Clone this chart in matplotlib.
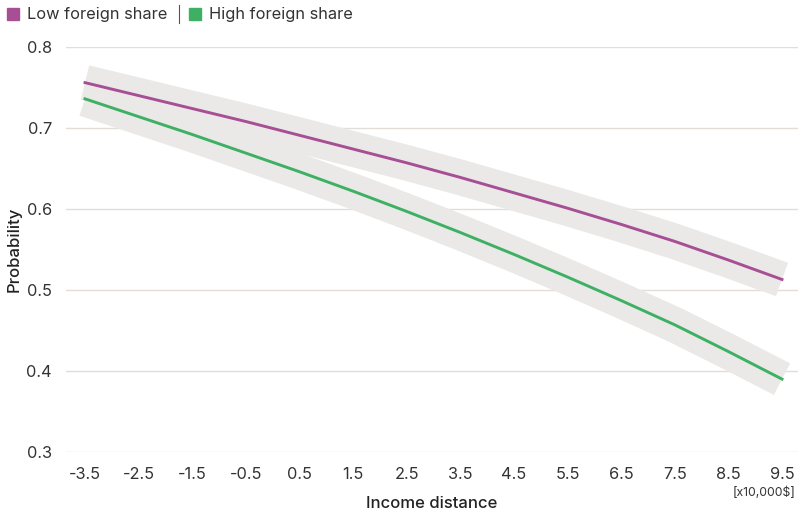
import matplotlib
matplotlib.use("Agg")
import matplotlib.pyplot as plt
import matplotlib.patches as patches

# income distance (x10,000$) and predicted probability for each group
income = [-3.5, -2.5, -1.5, -0.5, 0.5, 1.5, 2.5, 3.5, 4.5, 5.5, 6.5, 7.5, 8.5, 9.5]
low_share = [0.756, 0.740, 0.724, 0.708, 0.691, 0.674, 0.657, 0.639,
             0.620, 0.601, 0.581, 0.560, 0.537, 0.513]
high_share = [0.736, 0.714, 0.692, 0.669, 0.646, 0.622, 0.597, 0.571,
              0.544, 0.516, 0.487, 0.457, 0.424, 0.390]
y_ticks = [0.3, 0.4, 0.5, 0.6, 0.7, 0.8]

purple = "#a74f94"
green = "#3eb063"
band = "#eae9e7"
grid = "#e2ddd6"
text_col = "#333333"

plt.rcParams["font.family"] = ["Inter", "DejaVu Sans"]

fig = plt.figure(figsize=(7.98, 5.11), dpi=100)
ax = fig.add_axes([66 / 798, 59 / 511, 732 / 798, 405 / 511])

# wide grey bands behind the lines
for ys in (low_share, high_share):
    ax.plot(income, ys, color=band, lw=25.6, solid_capstyle="butt",
            solid_joinstyle="round", zorder=1)

ax.plot(income, low_share, color=purple, lw=2.1, zorder=3)
ax.plot(income, high_share, color=green, lw=2.1, zorder=3)

ax.set_xlim(-3.5 - 19 / 53.6, 9.5 + 16 / 53.6)
ax.set_ylim(0.3, 0.8)
ax.set_xticks(income)
ax.set_xticklabels([f"{v:g}" for v in income])
ax.set_yticks(y_ticks)
ax.set_yticklabels([f"{v:g}" for v in y_ticks])
ax.tick_params(axis="both", length=0, labelsize=11.8, colors=text_col)
ax.tick_params(axis="x", pad=11)
ax.tick_params(axis="y", pad=10)
ax.grid(axis="y", color=grid, lw=1)
ax.set_axisbelow(True)
for s in ax.spines.values():
    s.set_visible(False)

ax.set_xlabel("Income distance", fontsize=12, color="#222222",
              fontweight="medium")
ax.xaxis.set_label_coords(0.5, -(496 - 452) / 405)
ax.set_ylabel("Probability", fontsize=12, color="#222222",
              fontweight="medium")
ax.yaxis.set_label_coords((22 - 66) / 732, 0.5)
fig.text(795 / 798, 1 - 493 / 511, "[x10,000$]", ha="right", va="center",
         fontsize=8.8, color=text_col)

# legend row at the top
fig.patches.append(patches.Rectangle((7 / 798, 1 - 20 / 511), 12 / 798, 12 / 511,
                                     transform=fig.transFigure, color=purple))
fig.text(27 / 798, 1 - 14 / 511, "Low foreign share", ha="left", va="center",
         fontsize=11.8, color=text_col)
fig.add_artist(plt.Line2D([179 / 798, 179 / 798], [1 - 23 / 511, 1 - 5 / 511],
                          transform=fig.transFigure, color="#555555", lw=0.8))
fig.patches.append(patches.Rectangle((189 / 798, 1 - 20 / 511), 12 / 798, 12 / 511,
                                     transform=fig.transFigure, color=green))
fig.text(209 / 798, 1 - 14 / 511, "High foreign share", ha="left", va="center",
         fontsize=11.8, color=text_col)

fig.savefig("out.png", dpi=100)
